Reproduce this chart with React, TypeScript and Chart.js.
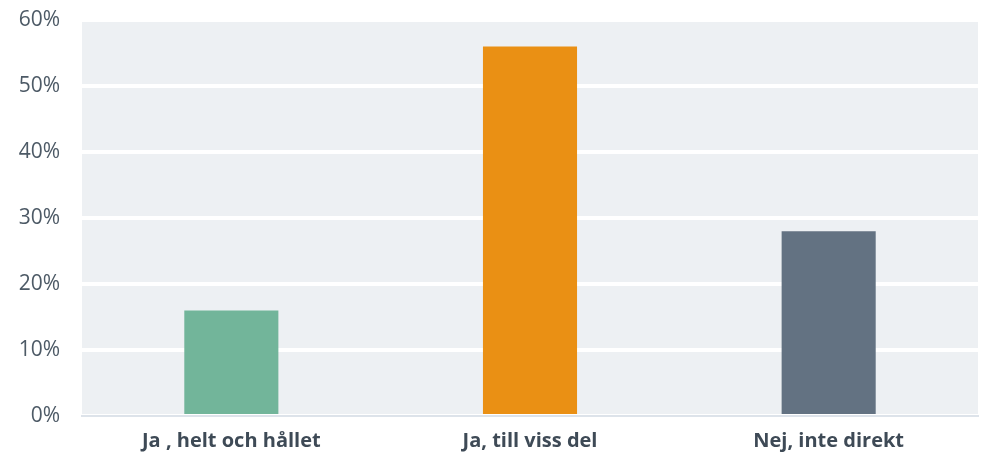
import React, { useEffect, useRef } from "react";
import { Chart, registerables } from "chart.js";

Chart.register(...registerables);

const categories = ["Ja , helt och hållet", "Ja, till viss del", "Nej, inte direkt"];
const values = [16, 56, 28];
const barColors = ["#72B59A", "#EA9014", "#637282"];
const yTicks = [0, 10, 20, 30, 40, 50, 60];

const bgPlugin = {
  id: "plotBg",
  beforeDraw(chart: any) {
    const { ctx, chartArea } = chart;
    ctx.save();
    ctx.fillStyle = "#EDF0F3";
    ctx.fillRect(chartArea.left, chartArea.top, chartArea.right - chartArea.left, chartArea.bottom - chartArea.top);
    ctx.restore();
  },
};

export default function App() {
  const ref = useRef<HTMLCanvasElement>(null);
  useEffect(() => {
    if (!ref.current) return;
    const chart = new Chart(ref.current, {
      type: "bar",
      data: {
        labels: categories,
        datasets: [
          {
            data: values,
            backgroundColor: barColors,
            categoryPercentage: 1,
            barPercentage: 0.315,
          },
        ],
      },
      plugins: [bgPlugin],
      options: {
        animation: false,
        responsive: false,
        maintainAspectRatio: false,
        layout: { padding: { top: 20, right: 6, bottom: 0, left: 0 } },
        plugins: { legend: { display: false }, tooltip: { enabled: false } },
        scales: {
          x: {
            grid: { display: false, drawTicks: false },
            border: { display: true, color: "#DDE3EA", width: 2 },
            ticks: {
              color: "#3E4A56",
              font: { family: "'Open Sans'", size: 20, weight: "bold" },
              padding: 13,
            },
            afterFit(scale: any) {
              scale.height = 42;
              scale.paddingLeft = 0;
              scale.paddingRight = 0;
            },
          },
          y: {
            min: 0,
            max: 60,
            afterBuildTicks(scale: any) {
              scale.ticks = yTicks.map((v) => ({ value: v }));
            },
            grid: { color: "#FFFFFF", lineWidth: 4, drawTicks: false },
            border: { display: false },
            ticks: {
              color: "#4D5A66",
              font: { family: "'Open Sans'", size: 21 },
              padding: 22,
              callback: (v: any) => v + "%",
            },
            afterFit(scale: any) {
              scale.width = 82;
              scale.paddingTop = 0;
              scale.paddingBottom = 0;
            },
          },
        },
      },
    });
    return () => chart.destroy();
  }, []);
  return (
    <div style={{ position: "fixed", left: 0, top: 0, width: 984, height: 458, background: "#fff" }}>
      <canvas ref={ref} width={984} height={458} style={{ width: 984, height: 458 }} />
    </div>
  );
}
